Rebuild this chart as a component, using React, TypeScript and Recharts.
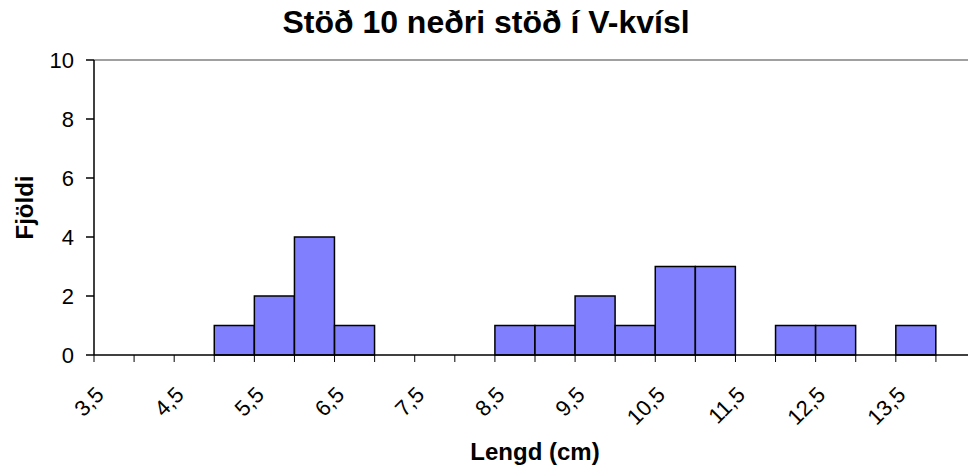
import React from 'react';
import { BarChart, Bar, XAxis, YAxis, ReferenceLine } from 'recharts';

// Length classes (cm) and the number of fish in each class
const lengthClasses = ['3,5', '4', '4,5', '5', '5,5', '6', '6,5', '7', '7,5', '8', '8,5', '9', '9,5', '10', '10,5', '11', '11,5', '12', '12,5', '13', '13,5', '14'];
const fishCounts = [0, 0, 0, 1, 2, 4, 1, 0, 0, 0, 1, 1, 2, 1, 3, 3, 0, 1, 1, 0, 1, 0];
const countTicks = [0, 2, 4, 6, 8, 10];

const titleText = 'Stöð 10 neðri stöð í V-kvísl';
const xTitle = 'Lengd (cm)';
const yTitle = 'Fjöldi';

const data = lengthClasses.map((label, i) => ({ label, count: fishCounts[i] }));

const FONT = 'Arial, "Liberation Sans", sans-serif';
const CHART_W = 990;
const CHART_H = 475;
const MARGIN = { top: 60, right: 14, bottom: 60, left: 0 };
const Y_AXIS_W = 94;
const X_AXIS_H = 60;
const PLOT_W = CHART_W - MARGIN.left - MARGIN.right - Y_AXIS_W;
const BAND = PLOT_W / lengthClasses.length;

// Category tick: tick marks sit on the class boundaries, labels on every other class
const LengthTick = (props: any) => {
  const { x, y, payload, index } = props;
  const bx = x - BAND / 2;
  const px = x - 9;
  const py = y + 41;
  return (
    <g>
      <line x1={bx} x2={bx} y1={y} y2={y + 7} stroke="#000" strokeWidth={1} />
      {index % 2 === 0 && (
        <text
          x={px}
          y={py}
          transform={`rotate(-45 ${px} ${py})`}
          textAnchor="end"
          fontFamily={FONT}
          fontSize={22}
          fill="#000"
        >
          {payload.value}
        </text>
      )}
    </g>
  );
};

export default function App() {
  return (
    <div style={{ position: 'absolute', left: 0, top: 0, width: 968, height: 475, overflow: 'hidden', background: '#fff' }}>
      <BarChart width={CHART_W} height={CHART_H} data={data} margin={MARGIN} barCategoryGap={0}>
        <text x={486} y={33} textAnchor="middle" fontFamily={FONT} fontSize={32} fontWeight="bold" fill="#000">
          {titleText}
        </text>
        <text
          x={33}
          y={207.5}
          transform="rotate(-90 33 207.5)"
          textAnchor="middle"
          fontFamily={FONT}
          fontSize={24}
          fontWeight="bold"
          fill="#000"
        >
          {yTitle}
        </text>
        <text x={535} y={460} textAnchor="middle" fontFamily={FONT} fontSize={24} fontWeight="bold" fill="#000">
          {xTitle}
        </text>
        <ReferenceLine y={10} stroke="#808080" strokeWidth={1.5} />
        <XAxis
          dataKey="label"
          height={X_AXIS_H}
          interval={0}
          tickLine={false}
          tickSize={0}
          tickMargin={0}
          axisLine={{ stroke: '#000', strokeWidth: 1.5 }}
          tick={<LengthTick />}
        />
        <YAxis
          width={Y_AXIS_W}
          domain={[0, 10]}
          ticks={countTicks}
          interval={0}
          tickSize={8}
          tickMargin={12}
          axisLine={{ stroke: '#000', strokeWidth: 1.5 }}
          tickLine={{ stroke: '#000', strokeWidth: 1.5 }}
          tick={{ fontFamily: FONT, fontSize: 22, fill: '#000' }}
        />
        <Bar dataKey="count" fill="#8080FF" stroke="#000" strokeWidth={1.5} isAnimationActive={false} />
      </BarChart>
    </div>
  );
}
